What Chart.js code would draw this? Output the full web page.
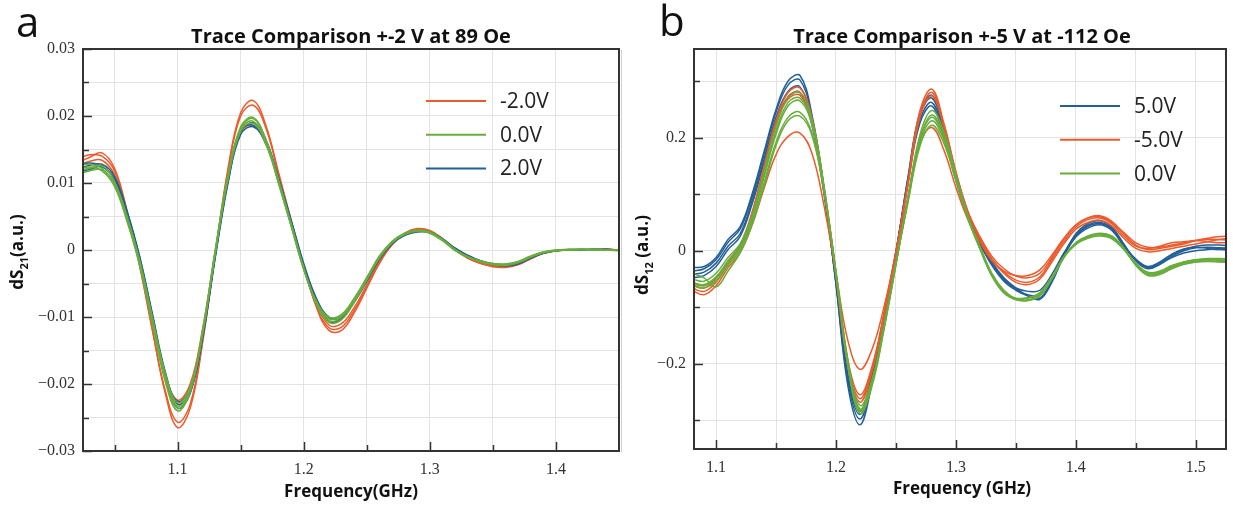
<!DOCTYPE html>
<html>
<head>
<meta charset="utf-8">
<script src="https://cdn.jsdelivr.net/npm/chart.js@4.4.1/dist/chart.umd.min.js"></script>
<style>
  html, body { margin: 0; padding: 0; background: #fff; }
  #wrap { position: relative; width: 1233px; height: 508px; }
  #panelA { position: absolute; left: 0; top: 0; }
  #panelB { position: absolute; left: 620px; top: 0; }
</style>
</head>
<body>
<div id="wrap">
  <canvas id="panelA" width="620" height="508"></canvas>
  <canvas id="panelB" width="613" height="508"></canvas>
</div>
<script>
// ---- panel a : +-2 V at 89 Oe ----
const freqA = [1.02,1.03,1.04,1.05,1.06,1.07,1.08,1.09,1.10,1.11,1.12,1.13,1.14,1.15,1.16,1.17,1.18,1.19,1.20,1.21,1.22,1.23,1.24,1.25,1.26,1.27,1.28,1.29,1.30,1.31,1.32,1.33,1.34,1.35,1.36,1.37,1.38,1.39,1.40,1.41,1.42,1.43,1.44,1.45];

const greenA = [
  [0.0118,0.0122,0.0126,0.0102,0.0048,-0.0020,-0.0105,-0.0188,-0.0233,-0.0208,-0.0120,0.0000,0.0110,0.0180,0.0192,0.0160,0.0102,0.0038,-0.0028,-0.0078,-0.0103,-0.0098,-0.0073,-0.0042,-0.0010,0.0012,0.0024,0.0029,0.0026,0.0015,0.0000,-0.0010,-0.0017,-0.0021,-0.0022,-0.0018,-0.0010,-0.0003,0.0000,0.0001,0.0001,0.0001,0.0000,0.0000],
  [0.0125,0.0128,0.0122,0.0098,0.0045,-0.0024,-0.0110,-0.0195,-0.0240,-0.0212,-0.0122,-0.0002,0.0110,0.0184,0.0198,0.0165,0.0105,0.0040,-0.0026,-0.0080,-0.0108,-0.0104,-0.0078,-0.0045,-0.0012,0.0011,0.0024,0.0030,0.0027,0.0016,0.0001,-0.0010,-0.0018,-0.0022,-0.0023,-0.0019,-0.0011,-0.0004,-0.0001,0.0000,0.0001,0.0000,0.0000,-0.0001],
  [0.0112,0.0118,0.0120,0.0100,0.0050,-0.0016,-0.0100,-0.0182,-0.0228,-0.0205,-0.0118,0.0002,0.0112,0.0182,0.0196,0.0163,0.0100,0.0036,-0.0028,-0.0076,-0.0100,-0.0096,-0.0072,-0.0041,-0.0009,0.0013,0.0025,0.0029,0.0025,0.0014,-0.0001,-0.0011,-0.0017,-0.0020,-0.0021,-0.0017,-0.0009,-0.0003,0.0000,0.0001,0.0001,0.0000,0.0000,0.0000],
  [0.0120,0.0124,0.0118,0.0095,0.0042,-0.0022,-0.0108,-0.0190,-0.0236,-0.0210,-0.0124,-0.0004,0.0106,0.0177,0.0189,0.0158,0.0100,0.0036,-0.0029,-0.0079,-0.0106,-0.0100,-0.0075,-0.0043,-0.0011,0.0011,0.0023,0.0028,0.0026,0.0015,0.0000,-0.0010,-0.0016,-0.0020,-0.0021,-0.0018,-0.0010,-0.0004,-0.0001,0.0000,0.0000,0.0001,0.0000,0.0000]
];
const blueA = [
  [0.0120,0.0126,0.0128,0.0110,0.0058,-0.0010,-0.0095,-0.0180,-0.0230,-0.0212,-0.0130,-0.0010,0.0100,0.0176,0.0190,0.0165,0.0108,0.0045,-0.0020,-0.0072,-0.0100,-0.0100,-0.0078,-0.0047,-0.0014,0.0009,0.0022,0.0028,0.0027,0.0017,0.0003,-0.0008,-0.0016,-0.0021,-0.0023,-0.0020,-0.0012,-0.0005,-0.0001,0.0000,0.0000,0.0001,0.0001,0.0000],
  [0.0125,0.0130,0.0125,0.0105,0.0052,-0.0015,-0.0100,-0.0186,-0.0236,-0.0214,-0.0128,-0.0006,0.0104,0.0178,0.0186,0.0160,0.0104,0.0042,-0.0024,-0.0076,-0.0106,-0.0102,-0.0077,-0.0045,-0.0012,0.0010,0.0023,0.0028,0.0026,0.0016,0.0002,-0.0009,-0.0017,-0.0022,-0.0024,-0.0021,-0.0012,-0.0005,-0.0001,0.0000,0.0001,0.0001,0.0000,0.0000],
  [0.0115,0.0120,0.0124,0.0106,0.0056,-0.0012,-0.0097,-0.0182,-0.0226,-0.0206,-0.0126,-0.0008,0.0102,0.0172,0.0184,0.0158,0.0104,0.0043,-0.0022,-0.0073,-0.0101,-0.0099,-0.0076,-0.0046,-0.0013,0.0010,0.0022,0.0027,0.0026,0.0016,0.0002,-0.0008,-0.0016,-0.0021,-0.0022,-0.0019,-0.0011,-0.0004,-0.0001,0.0000,0.0000,0.0000,0.0001,0.0000]
];
const orangeA = [
  [0.0130,0.0138,0.0145,0.0122,0.0058,-0.0022,-0.0118,-0.0212,-0.0265,-0.0236,-0.0136,-0.0004,0.0122,0.0205,0.0223,0.0186,0.0116,0.0045,-0.0024,-0.0085,-0.0120,-0.0120,-0.0094,-0.0057,-0.0020,0.0008,0.0025,0.0032,0.0029,0.0017,0.0001,-0.0012,-0.0020,-0.0025,-0.0026,-0.0022,-0.0013,-0.0005,-0.0001,0.0000,0.0000,0.0001,0.0001,0.0000],
  [0.0135,0.0142,0.0140,0.0118,0.0055,-0.0025,-0.0120,-0.0208,-0.0257,-0.0230,-0.0133,-0.0003,0.0118,0.0200,0.0216,0.0182,0.0113,0.0043,-0.0025,-0.0083,-0.0116,-0.0115,-0.0090,-0.0055,-0.0019,0.0008,0.0024,0.0031,0.0028,0.0016,0.0000,-0.0012,-0.0020,-0.0024,-0.0025,-0.0021,-0.0013,-0.0005,-0.0001,0.0000,0.0000,0.0000,0.0001,0.0000],
  [0.0125,0.0132,0.0134,0.0112,0.0052,-0.0020,-0.0105,-0.0186,-0.0224,-0.0200,-0.0116,0.0000,0.0106,0.0176,0.0186,0.0160,0.0104,0.0040,-0.0024,-0.0078,-0.0112,-0.0110,-0.0086,-0.0052,-0.0017,0.0008,0.0024,0.0030,0.0027,0.0016,0.0000,-0.0011,-0.0019,-0.0023,-0.0024,-0.0021,-0.0012,-0.0005,-0.0001,0.0000,0.0000,0.0000,0.0000,0.0000]
];
const xTicksA = [1.05,1.10,1.15,1.20,1.25,1.30,1.35,1.40,1.45];
const xLabelsA = [1.1,1.2,1.3,1.4];
const yTicksA = [-0.03,-0.025,-0.02,-0.015,-0.01,-0.005,0,0.005,0.01,0.015,0.02,0.025,0.03];
const yLabelsA = [-0.03,-0.02,-0.01,0,0.01,0.02,0.03];
const yLabelTextA = ['\u22120.03','\u22120.02','\u22120.01','0','0.01','0.02','0.03'];

// ---- panel b : +-5 V at -112 Oe ----
const freqB = [1.08,1.09,1.10,1.11,1.12,1.13,1.14,1.15,1.16,1.17,1.18,1.19,1.20,1.21,1.22,1.23,1.24,1.25,1.26,1.27,1.28,1.29,1.30,1.31,1.32,1.33,1.34,1.35,1.36,1.37,1.38,1.39,1.40,1.41,1.42,1.43,1.44,1.45,1.46,1.47,1.48,1.49,1.50,1.51,1.52,1.53];

const blueB = [
  [-0.030,-0.028,-0.012,0.020,0.042,0.100,0.175,0.250,0.300,0.310,0.240,0.110,-0.060,-0.240,-0.308,-0.235,-0.125,-0.005,0.130,0.245,0.275,0.215,0.135,0.065,0.018,-0.020,-0.048,-0.066,-0.080,-0.084,-0.052,-0.008,0.030,0.048,0.053,0.042,0.012,-0.018,-0.032,-0.024,-0.010,0.000,0.005,0.006,0.005,0.005],
  [-0.036,-0.032,-0.016,0.015,0.038,0.095,0.170,0.245,0.293,0.302,0.236,0.108,-0.058,-0.232,-0.298,-0.228,-0.120,-0.004,0.128,0.240,0.270,0.212,0.132,0.062,0.015,-0.022,-0.050,-0.068,-0.078,-0.078,-0.048,-0.006,0.028,0.045,0.050,0.040,0.010,-0.016,-0.030,-0.022,-0.008,0.002,0.008,0.010,0.010,0.008],
  [-0.042,-0.038,-0.022,0.008,0.030,0.088,0.162,0.236,0.282,0.290,0.228,0.104,-0.056,-0.225,-0.290,-0.222,-0.116,-0.002,0.124,0.232,0.262,0.206,0.128,0.060,0.013,-0.024,-0.052,-0.066,-0.072,-0.070,-0.042,-0.004,0.026,0.043,0.048,0.038,0.009,-0.015,-0.028,-0.020,-0.006,0.003,0.006,0.004,0.002,0.002],
  [-0.048,-0.044,-0.028,0.002,0.025,0.082,0.156,0.228,0.272,0.280,0.222,0.100,-0.054,-0.220,-0.284,-0.218,-0.112,0.000,0.120,0.226,0.256,0.200,0.124,0.058,0.012,-0.026,-0.054,-0.070,-0.080,-0.086,-0.056,-0.010,0.024,0.040,0.046,0.036,0.008,-0.016,-0.030,-0.024,-0.012,-0.004,0.000,0.002,0.004,0.004]
];
const orangeB = [
  [-0.060,-0.066,-0.050,-0.018,0.010,0.068,0.150,0.230,0.280,0.288,0.235,0.112,-0.045,-0.205,-0.268,-0.215,-0.118,-0.006,0.122,0.248,0.286,0.225,0.140,0.070,0.025,-0.010,-0.032,-0.045,-0.048,-0.040,-0.012,0.020,0.045,0.058,0.062,0.052,0.030,0.010,0.002,0.004,0.008,0.012,0.018,0.022,0.025,0.026],
  [-0.066,-0.072,-0.056,-0.024,0.006,0.062,0.144,0.224,0.272,0.280,0.230,0.110,-0.044,-0.200,-0.262,-0.210,-0.115,-0.005,0.118,0.242,0.280,0.222,0.138,0.068,0.022,-0.014,-0.038,-0.052,-0.056,-0.046,-0.016,0.016,0.042,0.055,0.058,0.048,0.026,0.008,0.004,0.008,0.014,0.016,0.018,0.016,0.014,0.015],
  [-0.055,-0.062,-0.048,-0.020,0.008,0.065,0.146,0.226,0.268,0.275,0.226,0.108,-0.042,-0.195,-0.255,-0.205,-0.112,-0.004,0.116,0.236,0.274,0.218,0.136,0.067,0.020,-0.016,-0.040,-0.056,-0.060,-0.050,-0.020,0.012,0.038,0.050,0.054,0.044,0.022,0.004,-0.002,0.000,0.004,0.008,0.012,0.016,0.020,0.022],
  [-0.070,-0.078,-0.062,-0.030,-0.004,0.045,0.110,0.170,0.202,0.208,0.172,0.080,-0.040,-0.160,-0.210,-0.175,-0.100,-0.004,0.096,0.190,0.218,0.178,0.112,0.055,0.016,-0.018,-0.036,-0.044,-0.044,-0.034,-0.008,0.022,0.046,0.058,0.060,0.050,0.032,0.014,0.006,0.006,0.010,0.014,0.018,0.020,0.020,0.018]
];
const greenB = [
  [-0.050,-0.054,-0.040,-0.012,0.012,0.062,0.140,0.220,0.270,0.280,0.232,0.115,-0.040,-0.205,-0.288,-0.240,-0.140,-0.025,0.095,0.205,0.248,0.210,0.135,0.062,0.008,-0.040,-0.070,-0.085,-0.088,-0.080,-0.050,-0.012,0.014,0.026,0.031,0.026,0.005,-0.025,-0.042,-0.040,-0.030,-0.022,-0.018,-0.016,-0.017,-0.018],
  [-0.056,-0.060,-0.046,-0.018,0.008,0.058,0.134,0.212,0.262,0.270,0.226,0.112,-0.040,-0.202,-0.284,-0.236,-0.137,-0.024,0.092,0.198,0.240,0.204,0.132,0.060,0.006,-0.042,-0.072,-0.086,-0.087,-0.078,-0.048,-0.011,0.014,0.025,0.030,0.025,0.004,-0.024,-0.040,-0.038,-0.028,-0.020,-0.016,-0.015,-0.016,-0.018],
  [-0.062,-0.066,-0.054,-0.026,0.000,0.050,0.120,0.192,0.236,0.245,0.208,0.106,-0.038,-0.198,-0.280,-0.232,-0.134,-0.022,0.088,0.190,0.230,0.196,0.128,0.058,0.004,-0.044,-0.074,-0.084,-0.083,-0.074,-0.046,-0.010,0.012,0.024,0.028,0.023,0.003,-0.022,-0.038,-0.036,-0.026,-0.020,-0.016,-0.014,-0.014,-0.015],
  [-0.040,-0.048,-0.064,-0.036,-0.004,0.046,0.114,0.186,0.230,0.238,0.204,0.104,-0.036,-0.194,-0.274,-0.228,-0.131,-0.021,0.085,0.185,0.222,0.190,0.124,0.056,0.003,-0.045,-0.075,-0.086,-0.084,-0.075,-0.047,-0.012,0.011,0.022,0.026,0.021,0.002,-0.024,-0.040,-0.039,-0.030,-0.024,-0.020,-0.019,-0.020,-0.021],
  [-0.058,-0.062,-0.050,-0.022,0.004,0.055,0.130,0.206,0.256,0.265,0.222,0.110,-0.040,-0.200,-0.282,-0.234,-0.136,-0.023,0.090,0.195,0.236,0.200,0.130,0.059,0.005,-0.043,-0.073,-0.087,-0.088,-0.079,-0.049,-0.012,0.013,0.024,0.029,0.024,0.003,-0.026,-0.044,-0.042,-0.032,-0.024,-0.020,-0.018,-0.019,-0.020]
];
const xTicksB = [1.10,1.15,1.20,1.25,1.30,1.35,1.40,1.45,1.50];
const xLabelsB = [1.1,1.2,1.3,1.4,1.5];
const yTicksB = [-0.3,-0.2,-0.1,0,0.1,0.2,0.3];
const yLabelsB = [-0.2,0,0.2];
const yLabelTextB = ['\u22120.2','0','0.2'];

const ORANGE = '#ec5a2b';
const GREEN = '#69ad3d';
const BLUE = '#235f97';

function has(list, v) {
  return list.some(t => Math.abs(t - v) < 1e-9);
}

// series -> datasets (first dataset is drawn on top)
function traces(freq, list, color) {
  return list.map(vals => ({
    data: freq.map((f, i) => ({ x: f, y: vals[i] })),
    borderColor: color,
    borderWidth: 1.5,
    pointRadius: 0,
    tension: 0.4,
    fill: false
  }));
}

// frame, inward ticks, titles, legend
const decor = {
  id: 'decor',
  afterDraw(chart, args, o) {
    const { ctx, chartArea: a, scales } = chart;
    ctx.save();

    // inward tick marks on left and bottom axes
    ctx.strokeStyle = '#333';
    ctx.lineWidth = 1.5;
    scales.x.ticks.forEach(t => {
      const px = Math.round(scales.x.getPixelForValue(t.value)) + 0.5;
      const len = has(o.xLabels, t.value) ? 9 : 6;
      ctx.beginPath(); ctx.moveTo(px, a.bottom); ctx.lineTo(px, a.bottom - len); ctx.stroke();
    });
    scales.y.ticks.forEach(t => {
      const py = Math.round(scales.y.getPixelForValue(t.value)) + 0.5;
      const len = has(o.yLabels, t.value) ? 9 : 6;
      ctx.beginPath(); ctx.moveTo(a.left, py); ctx.lineTo(a.left + len, py); ctx.stroke();
    });

    // frame
    ctx.lineWidth = 2;
    ctx.strokeStyle = '#333';
    ctx.strokeRect(a.left, a.top, a.right - a.left, a.bottom - a.top);

    ctx.fillStyle = '#111';
    ctx.textBaseline = 'alphabetic';

    // panel letter
    ctx.font = '42px "Open Sans"';
    ctx.textAlign = 'left';
    ctx.fillText(o.letter, o.letterX, o.letterY);

    // title
    ctx.font = 'bold 20px "Open Sans"';
    ctx.textAlign = 'center';
    ctx.fillText(o.title, o.titleX, o.titleY);

    // x title
    ctx.font = 'bold 17px "Open Sans"';
    ctx.fillText(o.xTitle, o.xTitleX, o.xTitleY);

    // y title with subscript, rotated
    ctx.save();
    ctx.translate(o.yTitleX, o.yTitleY);
    ctx.rotate(-Math.PI / 2);
    ctx.textAlign = 'left';
    const fMain = 'bold 17px "Open Sans"', fSub = 'bold 11px "Open Sans"';
    ctx.font = fMain; const w1 = ctx.measureText(o.yMain).width;
    ctx.font = fSub; const w2 = ctx.measureText(o.ySub).width;
    ctx.font = fMain; const w3 = ctx.measureText(o.yUnit).width;
    let x0 = -(w1 + w2 + w3) / 2;
    ctx.font = fMain; ctx.fillText(o.yMain, x0, 0); x0 += w1;
    ctx.font = fSub; ctx.fillText(o.ySub, x0, 5); x0 += w2;
    ctx.font = fMain; ctx.fillText(o.yUnit, x0, 0);
    ctx.restore();

    // legend
    ctx.font = '21px "Open Sans"';
    ctx.textAlign = 'left';
    ctx.textBaseline = 'middle';
    o.legend.forEach((item, i) => {
      const y = o.legendY + i * o.legendGap;
      ctx.strokeStyle = item.color;
      ctx.lineWidth = 2;
      ctx.beginPath(); ctx.moveTo(o.legendX, y); ctx.lineTo(o.legendX + 60, y); ctx.stroke();
      ctx.fillStyle = '#222';
      ctx.fillText(item.label, o.legendX + 74, y + 1);
    });

    // faint separator on the left of panel b
    if (o.separator) {
      ctx.strokeStyle = '#d0d0d0';
      ctx.lineWidth = 1;
      ctx.beginPath(); ctx.moveTo(1.5, 50); ctx.lineTo(1.5, 452); ctx.stroke();
    }
    ctx.restore();
  }
};

function axis(min, max, tickList, labelVals, labelText, fmtLen, pad, fitKey, fitVal) {
  return {
    type: 'linear',
    min: min,
    max: max,
    afterBuildTicks: s => { s.ticks = tickList.map(v => ({ value: v })); },
    afterFit: s => {
      s[fitKey] = fitVal;
      s.paddingLeft = 0; s.paddingRight = 0; s.paddingTop = 0; s.paddingBottom = 0;
    },
    grid: { color: '#e3e3e3', lineWidth: 1, drawTicks: false },
    border: { display: false },
    ticks: {
      autoSkip: false,
      maxRotation: 0,
      padding: pad,
      color: '#333',
      font: { family: '"Liberation Serif"', size: 16 },
      callback: v => {
        const i = labelVals.findIndex(t => Math.abs(t - v) < 1e-9);
        if (i < 0) return '';
        return labelText ? labelText[i] : labelVals[i].toFixed(fmtLen);
      }
    }
  };
}

function makeChart(id, datasets, scales, padding, decorOpts) {
  return new Chart(document.getElementById(id), {
    type: 'line',
    data: { datasets: datasets },
    options: {
      responsive: false,
      animation: false,
      devicePixelRatio: 1,
      layout: { padding: padding },
      scales: scales,
      plugins: {
        legend: { display: false },
        tooltip: { enabled: false },
        title: { display: false },
        decor: decorOpts
      }
    },
    plugins: [decor]
  });
}

makeChart('panelA',
  [...traces(freqA, greenA, GREEN), ...traces(freqA, blueA, BLUE), ...traces(freqA, orangeA, ORANGE)],
  {
    x: axis(1.025, 1.45, xTicksA, xLabelsA, null, 1, 9, 'height', 57),
    y: axis(-0.03, 0.03, yTicksA, yLabelsA, yLabelTextA, 2, 8, 'width', 83)
  },
  { left: 0, top: 49, right: 1, bottom: 0 },
  {
    letter: 'a', letterX: 16, letterY: 37,
    title: 'Trace Comparison +-2 V at 89 Oe', titleX: 351, titleY: 43,
    xTitle: 'Frequency(GHz)', xTitleX: 351, xTitleY: 497,
    yMain: 'dS', ySub: '21', yUnit: '(a.u.)', yTitleX: 23, yTitleY: 252,
    xLabels: xLabelsA, yLabels: yLabelsA,
    legend: [
      { label: '-2.0V', color: ORANGE },
      { label: '0.0V', color: GREEN },
      { label: '2.0V', color: BLUE }
    ],
    legendX: 426, legendY: 101, legendGap: 33.7,
    separator: false
  }
);

makeChart('panelB',
  [...traces(freqB, greenB, GREEN), ...traces(freqB, orangeB, ORANGE), ...traces(freqB, blueB, BLUE)],
  {
    x: axis(1.0816, 1.5252, xTicksB, xLabelsB, null, 1, 9, 'height', 59),
    y: axis(-0.351, 0.357, yTicksB, yLabelsB, yLabelTextB, 1, 8, 'width', 74)
  },
  { left: 0, top: 49, right: 7, bottom: 0 },
  {
    letter: 'b', letterX: 39, letterY: 36,
    title: 'Trace Comparison +-5 V at -112 Oe', titleX: 342, titleY: 43,
    xTitle: 'Frequency (GHz)', xTitleX: 342, xTitleY: 494,
    yMain: 'dS', ySub: '12', yUnit: ' (a.u.)', yTitleX: 28, yTitleY: 255,
    xLabels: xLabelsB, yLabels: yLabelsB,
    legend: [
      { label: '5.0V', color: BLUE },
      { label: '-5.0V', color: ORANGE },
      { label: '0.0V', color: GREEN }
    ],
    legendX: 440, legendY: 106, legendGap: 33.8,
    separator: true
  }
);
</script>
</body>
</html>
